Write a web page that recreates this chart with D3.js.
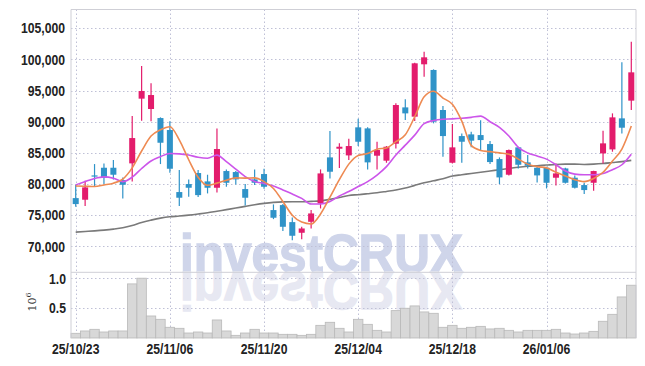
<!DOCTYPE html>
<html>
<head>
<meta charset="utf-8">
<script src="https://cdn.jsdelivr.net/npm/d3@7"></script>
<style>
  body { margin: 0; background: #fff; }
  svg { display: block; }
</style>
</head>
<body>
<div id="chart"></div>
<script>
const width = 645;
const height = 366;

// trading days, yy/mm/dd
const dates = [
  '25/10/23', '25/10/24', '25/10/27', '25/10/28', '25/10/29', '25/10/30', '25/10/31',
  '25/11/03', '25/11/04', '25/11/05', '25/11/06', '25/11/07', '25/11/10', '25/11/11',
  '25/11/12', '25/11/13', '25/11/14', '25/11/17', '25/11/18', '25/11/19', '25/11/20',
  '25/11/21', '25/11/24', '25/11/25', '25/11/26', '25/11/27', '25/11/28',
  '25/12/01', '25/12/02', '25/12/03', '25/12/04', '25/12/05', '25/12/08', '25/12/09',
  '25/12/10', '25/12/11', '25/12/12', '25/12/15', '25/12/16', '25/12/17', '25/12/18',
  '25/12/19', '25/12/22', '25/12/23', '25/12/24', '25/12/26', '25/12/29', '25/12/30',
  '26/01/02', '26/01/05', '26/01/06', '26/01/07', '26/01/08', '26/01/09', '26/01/12',
  '26/01/13', '26/01/14', '26/01/15', '26/01/16', '26/01/19'
];

const opens = [77750, 77490, 81390, 82620, 82620, 80640, 83320, 93700, 92040, 90590,
  88670, 78720, 80000, 81770, 80430, 79410, 82090, 81930, 79200, 80750,
  81610, 75830, 76630, 73900, 72190, 73950, 76900, 84280, 85670, 84600,
  89100, 88930, 84550, 83750, 86470, 92300, 90810, 99210, 98300, 91880,
  83420, 87700, 87970, 87860, 86420, 84010, 81500, 85890, 83480, 82620,
  82620, 81020, 82510, 81020, 79840, 80210, 84920, 85560, 90540, 93380];

const highs = [79840, 80530, 83210, 83320, 83850, 81070, 90910, 98940, 96160, 90700,
  90060, 82250, 80750, 82250, 81500, 88930, 82350, 82090, 80000, 82350,
  82460, 76740, 76800, 74650, 73150, 75830, 82350, 88510, 86530, 87280,
  90490, 89100, 86790, 86100, 92950, 93590, 99470, 101240, 98400, 92520,
  89630, 88130, 88400, 90220, 86900, 84280, 85560, 85990, 84650, 82890,
  82780, 83320, 82620, 81390, 80210, 82140, 88560, 91340, 99530, 102840];

const lows = [76360, 76470, 79570, 80000, 80750, 77700, 80430, 90170, 90060, 83210,
  81820, 76470, 77970, 77910, 78500, 78660, 79570, 79950, 76580, 79840,
  79250, 74380, 72460, 71010, 71170, 72880, 76090, 80910, 82570, 83850,
  86100, 82350, 82350, 83420, 85720, 90270, 90110, 97230, 89740, 84390,
  83320, 83420, 85890, 85350, 83210, 80000, 81390, 82510, 82510, 80270,
  79300, 79790, 80110, 79300, 78400, 78930, 83320, 85190, 88130, 91880];

const closes = [76790, 79470, 81280, 81020, 81500, 79890, 87380, 94930, 94280, 86630,
  82460, 77810, 79410, 78230, 79410, 85620, 80210, 80750, 77810, 80210,
  79570, 74600, 73150, 71710, 72880, 75290, 81710, 81980, 85990, 86100,
  86790, 83480, 85460, 85990, 92680, 91340, 99370, 100330, 90000, 87700,
  85890, 86790, 86960, 87060, 83530, 81070, 85460, 83100, 82940, 81390,
  80210, 81710, 80210, 79410, 79040, 82090, 86530, 90700, 89040, 97920];

const volumes = [79000, 118000, 146000, 101000, 118000, 118000, 909000, 1005000, 370000, 314000,
  180000, 163000, 84000, 101000, 84000, 303000, 118000, 45000, 84000, 146000,
  84000, 84000, 62000, 62000, 45000, 62000, 213000, 264000, 163000, 101000,
  314000, 230000, 129000, 101000, 460000, 500000, 539000, 438000, 415000, 180000,
  213000, 163000, 180000, 196000, 152000, 163000, 129000, 101000, 129000, 129000,
  129000, 146000, 84000, 67000, 84000, 112000, 281000, 398000, 690000, 887000];

// moving averages
const maShort = [79700, 79650, 79600, 79850, 80150, 80800, 82600, 85300, 87700, 88700,
  89200, 87100, 83900, 81100, 79800, 80150, 80600, 81000, 80950, 81000,
  80400, 79300, 77200, 75000, 73900, 73600, 75200, 77900, 80700, 83200,
  84600, 84900, 85600, 85800, 86800, 87900, 90800, 94000, 94900, 93800,
  92800, 90100, 86200, 85400, 85200, 85000, 84800, 84000, 83200, 82800,
  82600, 81900, 81300, 80700, 80400, 80900, 81900, 83700, 85600, 89300];

const maMid = [79840, 80400, 80900, 81150, 80950, 80400, 81100, 82500, 83700, 84400,
  84900, 84850, 84650, 84300, 84150, 84650, 83600, 82400, 81200, 80400,
  80100, 79700, 79050, 78400, 77700, 76800, 76800, 77200, 78100, 78800,
  79600, 80400, 81450, 82800, 84650, 86250, 87850, 89700, 90200, 90400,
  90450, 90550, 90700, 90900, 90000, 89100, 87700, 85900, 85000, 84500,
  84000, 83100, 82100, 81600, 81500, 81500, 81700, 82300, 83100, 84800];

const maLong = [72300, 72400, 72500, 72620, 72780, 73000, 73370, 73850, 74220, 74540,
  74760, 74870, 75020, 75200, 75400, 75650, 75900, 76150, 76420, 76680,
  76900, 77060, 77140, 77160, 77160, 77220, 77300, 77550, 77860, 78180,
  78300, 78450, 78610, 78820, 79040, 79360, 79790, 80200, 80530, 80860,
  81300, 81500, 81700, 81900, 82100, 82300, 82500, 82700, 82850, 82950,
  83050, 83150, 83200, 83200, 83150, 83200, 83300, 83450, 83600, 83800];

const priceTicks = [70000, 75000, 80000, 85000, 90000, 95000, 100000, 105000];
const volumeTicks = [500000, 1000000];
const dateTickIdx = [0, 10, 20, 30, 40, 50];

const upColor = '#e31c6c';
const downColor = '#2f93c8';
const labelFont = "'Liberation Sans', Arial, sans-serif";

function makeChart() {
  const left = 71, right = 636, top = 9.5, split = 272.3, bottom = 338;

  const svg = d3.select('#chart').append('svg')
    .attr('width', width)
    .attr('height', height);

  const x = d3.scaleBand()
    .domain(d3.range(dates.length))
    .range([left, right])
    .padding(0);
  const cx = i => x(i) + x.bandwidth() / 2;

  const y = d3.scaleLinear()
    .domain([65850, 108000])
    .range([split, top]);

  const yv = d3.scaleLinear()
    .domain([0, 1104000])
    .range([bottom, split]);

  // watermark and its reflection
  const wm = svg.append('g').attr('font-family', "'Liberation Sans', Arial, sans-serif")
    .attr('font-weight', 'bold').attr('font-size', 54);
  wm.append('text')
    .attr('x', 180).attr('y', split)
    .attr('textLength', 283).attr('lengthAdjust', 'spacingAndGlyphs')
    .attr('fill', '#cfd5ea').attr('stroke', '#cfd5ea').attr('stroke-width', 1.4)
    .text('investCRUX');
  wm.append('text')
    .attr('x', 180).attr('y', split)
    .attr('transform', `translate(0,${2 * split}) scale(1,-1)`)
    .attr('textLength', 283).attr('lengthAdjust', 'spacingAndGlyphs')
    .attr('fill', '#e7e8f2').attr('stroke', '#e7e8f2').attr('stroke-width', 1.4)
    .text('investCRUX');

  // grid
  const grid = svg.append('g')
    .attr('stroke', '#bfc0d6')
    .attr('stroke-dasharray', '1.5,2.5')
    .attr('stroke-width', 1);
  grid.selectAll('.hp').data(priceTicks).enter().append('line')
    .attr('x1', left).attr('x2', right)
    .attr('y1', d => Math.round(y(d)) + 0.5).attr('y2', d => Math.round(y(d)) + 0.5);
  grid.selectAll('.hv').data(volumeTicks).enter().append('line')
    .attr('x1', left).attr('x2', right)
    .attr('y1', d => Math.round(yv(d)) + 0.5).attr('y2', d => Math.round(yv(d)) + 0.5);
  grid.selectAll('.vx').data(dateTickIdx).enter().append('line')
    .attr('x1', d => Math.round(cx(d)) + 0.5).attr('x2', d => Math.round(cx(d)) + 0.5)
    .attr('y1', top).attr('y2', bottom);

  // volume bars
  svg.append('g').selectAll('rect').data(volumes).enter().append('rect')
    .attr('x', (d, i) => x(i))
    .attr('y', d => yv(d))
    .attr('width', x.bandwidth())
    .attr('height', d => bottom - yv(d))
    .attr('fill', '#d8d8d8')
    .attr('stroke', '#b9b9b9')
    .attr('stroke-width', 0.8);

  // moving averages
  const lineOf = arr => d3.line()
    .x((d, i) => cx(i))
    .y(d => y(d))
    .curve(d3.curveMonotoneX)(arr);
  svg.append('path').attr('d', lineOf(maLong))
    .attr('fill', 'none').attr('stroke', '#7a7a7a').attr('stroke-width', 1.6);

  // candles
  const candles = svg.append('g').selectAll('g').data(d3.range(dates.length)).enter().append('g')
    .attr('fill', i => closes[i] >= opens[i] ? upColor : downColor)
    .attr('stroke', i => closes[i] >= opens[i] ? upColor : downColor);
  candles.append('line')
    .attr('x1', i => cx(i)).attr('x2', i => cx(i))
    .attr('y1', i => y(highs[i])).attr('y2', i => y(lows[i]))
    .attr('stroke-width', 1.2);
  const bw = x.bandwidth() * 0.64;
  candles.append('rect')
    .attr('x', i => cx(i) - bw / 2)
    .attr('width', bw)
    .attr('y', i => y(Math.max(opens[i], closes[i])))
    .attr('height', i => Math.max(1.2, Math.abs(y(opens[i]) - y(closes[i]))))
    .attr('stroke', 'none');

  svg.append('path').attr('d', lineOf(maMid))
    .attr('fill', 'none').attr('stroke', '#cc55ea').attr('stroke-width', 1.6);
  svg.append('path').attr('d', lineOf(maShort))
    .attr('fill', 'none').attr('stroke', '#ee8a52').attr('stroke-width', 1.6);

  // frame
  const frame = svg.append('g').attr('stroke', '#cfcfd6').attr('stroke-width', 1);
  frame.append('line').attr('x1', left).attr('x2', right).attr('y1', top).attr('y2', top);
  frame.append('line').attr('x1', left).attr('x2', right).attr('y1', split).attr('y2', split);
  frame.append('line').attr('x1', left).attr('x2', left).attr('y1', top).attr('y2', bottom);
  frame.append('line').attr('x1', right).attr('x2', right).attr('y1', top).attr('y2', bottom);

  // axes labels
  const priceAxis = d3.axisLeft(y).tickValues(priceTicks).tickFormat(d3.format(',')).tickSize(0).tickPadding(6);
  svg.append('g').attr('transform', `translate(${left},0)`).call(priceAxis)
    .call(g => g.select('.domain').remove());

  const volAxis = d3.axisLeft(yv).tickValues(volumeTicks).tickFormat(d => (d / 1e6).toFixed(1)).tickSize(0).tickPadding(5);
  svg.append('g').attr('transform', `translate(${left},0)`).call(volAxis)
    .call(g => g.select('.domain').remove());

  const dateAxis = d3.axisBottom(x).tickValues(dateTickIdx).tickFormat(i => dates[i]).tickSize(0).tickPadding(6);
  svg.append('g').attr('transform', `translate(0,${bottom})`).call(dateAxis)
    .call(g => g.select('.domain').remove());

  // condensed look: squeeze the bold labels a bit
  svg.selectAll('.tick text')
    .attr('font-family', labelFont)
    .attr('font-weight', 'bold')
    .attr('font-size', 14.5)
    .attr('fill', '#222')
    .each(function () {
      const w = this.getComputedTextLength();
      d3.select(this).attr('textLength', w * 0.84).attr('lengthAdjust', 'spacingAndGlyphs');
    });

  // 10^6 unit label
  const unit = svg.append('text')
    .attr('transform', 'translate(36,302) rotate(-90)')
    .attr('text-anchor', 'middle')
    .attr('font-family', "'DejaVu Serif', serif")
    .attr('font-size', 11)
    .attr('fill', '#333');
  unit.append('tspan').text('10');
  unit.append('tspan').attr('dy', -5).attr('font-size', 8).text('6');
}

makeChart();
</script>
</body>
</html>
